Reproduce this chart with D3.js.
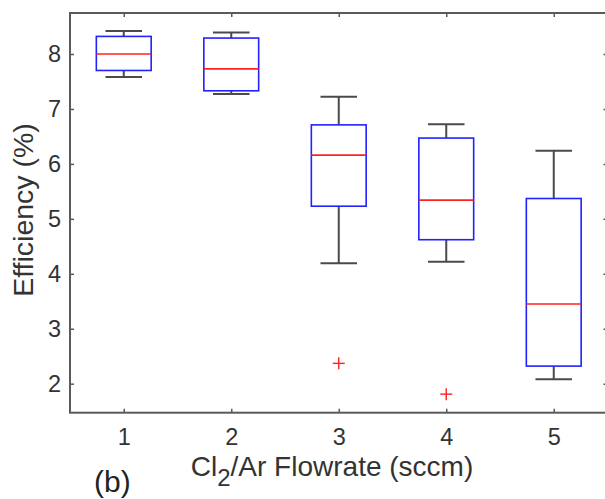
<!DOCTYPE html>
<html>
<head>
<meta charset="utf-8">
<script src="https://cdn.jsdelivr.net/npm/d3@7"></script>
<style>
  html, body { margin: 0; padding: 0; background: #fff; }
  svg { display: block; }
  text { font-family: "Liberation Sans", Arial, sans-serif; }
</style>
</head>
<body>
<script>
// ---- data ----
const categories = [1, 2, 3, 4, 5];
const q1Values = [7.70, 7.33, 5.23, 4.62, 2.32];
const medianValues = [8.00, 7.73, 6.16, 5.34, 3.45];
const q3Values = [8.32, 8.29, 6.71, 6.47, 5.37];
const whiskerLow = [7.58, 7.27, 4.19, 4.22, 2.08];
const whiskerHigh = [8.42, 8.39, 7.22, 6.72, 6.24];
const outlierCats = [3, 4];
const outlierValues = [2.37, 1.81];
const yTicks = [2, 3, 4, 5, 6, 7, 8];
const xTicks = [1, 2, 3, 4, 5];

const W = 605, H = 499;
const svg = d3.select("body").append("svg").attr("width", W).attr("height", H);

const mLeft = 70, mRight = 607.5, mTop = 13, mBottom = 412.7;
const x = d3.scaleLinear().domain([0.5, 5.5]).range([mLeft, mRight]);
const y = d3.scaleLinear().domain([1.472, 8.746]).range([mBottom, mTop]);

const axisColor = "#5a5a5a";
const textColor = "#333";

// boxes
const boxW = 0.51, capW = 0.34;
const g = svg.append("g");
categories.forEach((c, i) => {
  g.append("line").attr("x1", x(c)).attr("x2", x(c))
    .attr("y1", y(q3Values[i])).attr("y2", y(whiskerHigh[i]))
    .attr("stroke", "#4a4a4a").attr("stroke-width", 2);
  g.append("line").attr("x1", x(c)).attr("x2", x(c))
    .attr("y1", y(q1Values[i])).attr("y2", y(whiskerLow[i]))
    .attr("stroke", "#4a4a4a").attr("stroke-width", 2);
  g.append("line").attr("x1", x(c - capW / 2)).attr("x2", x(c + capW / 2))
    .attr("y1", y(whiskerHigh[i])).attr("y2", y(whiskerHigh[i]))
    .attr("stroke", "#4a4a4a").attr("stroke-width", 2);
  g.append("line").attr("x1", x(c - capW / 2)).attr("x2", x(c + capW / 2))
    .attr("y1", y(whiskerLow[i])).attr("y2", y(whiskerLow[i]))
    .attr("stroke", "#4a4a4a").attr("stroke-width", 2);
  g.append("rect").attr("x", x(c - boxW / 2)).attr("y", y(q3Values[i]))
    .attr("width", x(c + boxW / 2) - x(c - boxW / 2))
    .attr("height", y(q1Values[i]) - y(q3Values[i]))
    .attr("fill", "none").attr("stroke", "#2222ff").attr("stroke-width", 1.6);
  g.append("line").attr("x1", x(c - boxW / 2)).attr("x2", x(c + boxW / 2))
    .attr("y1", y(medianValues[i])).attr("y2", y(medianValues[i]))
    .attr("stroke", "#ff2020").attr("stroke-width", 1.6);
});

// outliers
outlierCats.forEach((c, i) => {
  const cx = x(c), cy = y(outlierValues[i]), s = 6;
  g.append("line").attr("x1", cx - s).attr("x2", cx + s).attr("y1", cy).attr("y2", cy)
    .attr("stroke", "#ff2020").attr("stroke-width", 1.4);
  g.append("line").attr("x1", cx).attr("x2", cx).attr("y1", cy - s).attr("y2", cy + s)
    .attr("stroke", "#ff2020").attr("stroke-width", 1.4);
});

// axes
const styleAxis = sel => {
  sel.select(".domain").remove();
  sel.selectAll(".tick line").attr("stroke", axisColor).attr("stroke-width", 1.5);
  sel.selectAll(".tick text").attr("fill", textColor)
    .style("font-size", "23.5px").style("font-family", "'Liberation Sans', Arial, sans-serif");
};
svg.append("g").attr("transform", `translate(${mLeft},0)`)
  .call(d3.axisLeft(y).tickValues(yTicks).tickSizeInner(-4).tickSizeOuter(0).tickPadding(9).tickFormat(d3.format("d")))
  .call(styleAxis);
svg.append("g").attr("transform", `translate(${mRight},0)`)
  .call(d3.axisRight(y).tickValues(yTicks).tickSizeInner(-4).tickSizeOuter(0).tickFormat(""))
  .call(styleAxis);
svg.append("g").attr("transform", `translate(0,${mBottom})`)
  .call(d3.axisBottom(x).tickValues(xTicks).tickSizeInner(-4).tickSizeOuter(0).tickPadding(16).tickFormat(d3.format("d")))
  .call(styleAxis);
svg.append("g").attr("transform", `translate(0,${mTop})`)
  .call(d3.axisTop(x).tickValues(xTicks).tickSizeInner(-4).tickSizeOuter(0).tickFormat(""))
  .call(styleAxis);

// frame
svg.append("rect").attr("x", mLeft).attr("y", mTop)
  .attr("width", mRight - mLeft).attr("height", mBottom - mTop)
  .attr("fill", "none").attr("stroke", axisColor).attr("stroke-width", 2);

// y label
svg.append("text")
  .attr("transform", `translate(33,210) rotate(-90)`)
  .attr("text-anchor", "middle").attr("fill", textColor)
  .style("font-size", "28.5px").text("Efficiency (%)");

// x label
const xl = svg.append("text").attr("x", 332).attr("y", 476)
  .attr("text-anchor", "middle").attr("fill", textColor).style("font-size", "28px");
xl.append("tspan").text("Cl");
xl.append("tspan").attr("dy", 10).style("font-size", "24px").text("2");
xl.append("tspan").attr("dy", -10).text("/Ar Flowrate (sccm)");

// panel label
svg.append("text").attr("x", 94).attr("y", 492).attr("fill", "#222")
  .style("font-size", "30px").text("(b)");
</script>
</body>
</html>
